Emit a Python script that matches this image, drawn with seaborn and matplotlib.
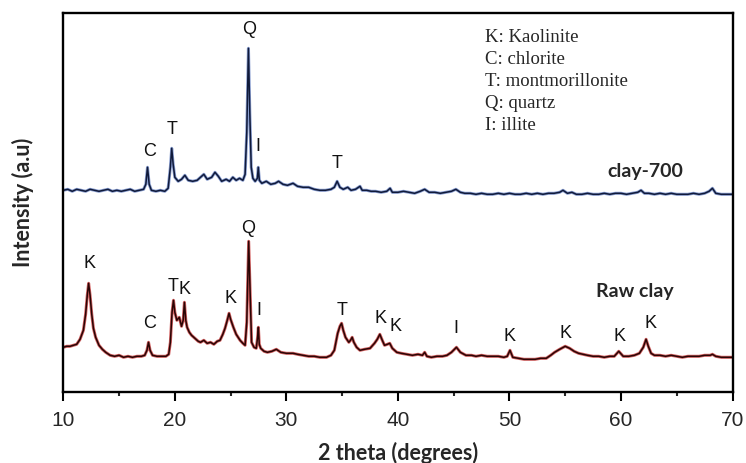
import matplotlib
matplotlib.use("Agg")
import matplotlib.pyplot as plt
from matplotlib.ticker import MultipleLocator
import seaborn as sns
import pandas as pd

# ---- data (2 theta, intensity a.u. offset) ----
theta_700 = [10.0, 10.4, 10.8, 11.2, 11.6, 12.0, 12.4, 12.8, 13.2, 13.6, 14.0, 14.4, 14.8, 15.2, 15.6, 16.0,
             16.4, 16.8, 17.2, 17.4, 17.55, 17.7, 17.9, 18.3, 18.7, 19.1, 19.4, 19.6, 19.72, 19.85, 20.0, 20.3,
             20.6, 20.9, 21.2, 21.6, 22.0, 22.4, 22.6, 22.9, 23.3, 23.6, 23.9, 24.2, 24.6, 24.9, 25.2, 25.5,
             25.8, 26.1, 26.3, 26.45, 26.6, 26.72, 26.85, 27.0, 27.2, 27.4, 27.48, 27.58, 27.8, 28.2, 28.6,
             29.0, 29.3, 29.7, 30.1, 30.6, 31.0, 31.5, 32.0, 32.5, 33.0, 33.5, 34.0, 34.3, 34.55, 34.8, 35.1,
             35.5, 35.8, 36.2, 36.6, 36.8, 37.2, 37.6, 38.0, 38.5, 39.0, 39.3, 39.5, 40.0, 40.5, 41.0, 41.5,
             42.0, 42.4, 42.8, 43.3, 43.8, 44.3, 44.8, 45.2, 45.6, 46.0, 46.5, 47.0, 47.5, 48.0, 48.5, 49.0,
             49.5, 50.0, 50.5, 51.0, 51.5, 52.0, 52.5, 53.0, 53.5, 54.0, 54.5, 54.8, 55.2, 55.6, 56.0, 56.5,
             57.0, 57.5, 58.0, 58.5, 59.0, 59.5, 60.0, 60.5, 61.0, 61.5, 61.8, 62.1, 62.5, 63.0, 63.5, 64.0,
             64.5, 65.0, 65.5, 66.0, 66.5, 67.0, 67.5, 67.9, 68.2, 68.5, 69.0, 69.5, 70.0]
int_700 = [202, 203, 201, 203, 202, 201, 203, 202, 201, 202, 203, 201, 202, 201, 202, 203,
           201, 202, 203, 208, 225, 208, 202, 201, 202, 201, 204, 225, 244, 228, 215, 211,
           213, 217, 212, 211, 212, 216, 218, 213, 215, 220, 216, 211, 213, 211, 215, 212,
           214, 212, 218, 260, 344, 280, 225, 214, 211, 214, 225, 212, 209, 211, 208,
           209, 211, 208, 207, 209, 206, 205, 205, 203, 202, 202, 203, 205, 211, 205, 203,
           205, 202, 203, 206, 202, 202, 201, 201, 200, 201, 204, 200, 200, 201, 200, 199,
           201, 203, 200, 200, 199, 200, 201, 203, 200, 199, 199, 198, 199, 198, 198, 199,
           198, 199, 198, 198, 199, 198, 199, 198, 199, 199, 200, 202, 199, 200, 198, 198,
           199, 198, 198, 199, 198, 199, 199, 198, 199, 200, 202, 199, 199, 198, 199, 198,
           199, 198, 198, 198, 199, 198, 199, 201, 204, 199, 198, 198, 198]

theta_raw = [10.0, 10.3, 10.6, 10.9, 11.2, 11.5, 11.8, 12.0, 12.15, 12.27, 12.4, 12.55, 12.7, 12.9, 13.2,
             13.5, 13.8, 14.2, 14.6, 15.0, 15.4, 15.8, 16.2, 16.6, 17.0, 17.3, 17.5, 17.64, 17.78, 18.0,
             18.4, 18.8, 19.2, 19.45, 19.6, 19.75, 19.88, 20.0, 20.18, 20.4, 20.6, 20.75, 20.86, 20.98,
             21.1, 21.3, 21.5, 21.8, 22.1, 22.3, 22.6, 22.9, 23.2, 23.5, 23.8, 24.05, 24.3, 24.5, 24.7,
             24.86, 25.0, 25.25, 25.5, 25.85, 26.1, 26.3, 26.45, 26.62, 26.75, 26.88, 27.1, 27.3, 27.42,
             27.49, 27.57, 27.7, 28.0, 28.3, 28.7, 29.1, 29.5, 30.0, 30.6, 31.0, 31.5, 32.0, 32.5, 33.0,
             33.6, 34.0, 34.3, 34.6, 34.8, 34.95, 35.1, 35.3, 35.6, 35.75, 35.9, 36.05, 36.3, 36.6, 37.0,
             37.5, 37.9, 38.15, 38.38, 38.6, 38.8, 39.05, 39.27, 39.5, 39.9, 40.3, 40.8, 41.3, 41.8, 42.2,
             42.4, 42.6, 43.0, 43.5, 44.0, 44.4, 44.8, 45.25, 45.6, 46.1, 46.6, 47.0, 47.5, 48.0, 48.5,
             49.0, 49.5, 49.8, 50.05, 50.3, 50.8, 51.3, 51.8, 52.3, 52.8, 53.3, 53.7, 54.05, 54.5, 55.0,
             55.4, 55.8, 56.2, 56.6, 57.0, 57.5, 58.0, 58.5, 59.0, 59.4, 59.8, 60.2, 60.7, 61.2, 61.65,
             62.0, 62.25, 62.45, 62.7, 63.0, 63.5, 64.0, 64.5, 65.0, 65.5, 66.0, 66.5, 67.0, 67.5, 68.0,
             68.2, 68.5, 69.0, 69.5, 70.0]
int_raw = [45, 46, 46, 47, 48, 53, 62, 78, 97, 109, 97, 78, 64, 55, 47,
           43, 40, 37, 36, 37, 35, 36, 35, 36, 36, 37, 42, 50, 42, 37,
           36, 36, 36, 38, 50, 80, 92, 80, 72, 75, 66, 72, 90, 72,
           65, 60, 57, 54, 51, 50, 52, 49, 50, 48, 51, 52, 58, 64, 72,
           79, 73, 65, 58, 52, 49, 47, 70, 151, 100, 50, 45, 44, 55,
           65, 48, 44, 41, 40, 41, 43, 40, 39, 39, 38, 37, 36, 36, 35,
           35, 37, 42, 59, 66, 69, 62, 55, 50, 52, 55, 50, 45, 42, 43,
           44, 49, 53, 58, 52, 47, 48, 49, 44, 40, 39, 38, 37, 38, 37,
           40, 36, 35, 36, 36, 37, 40, 45, 40, 37, 37, 36, 37, 36, 36,
           36, 35, 36, 42, 35, 34, 33, 33, 33, 34, 34, 37, 40, 43, 46,
           44, 41, 39, 38, 37, 36, 36, 35, 36, 36, 41, 36, 36, 37, 39,
           45, 53, 46, 39, 37, 37, 36, 37, 36, 35, 36, 36, 36, 37, 37,
           38, 36, 35, 35, 35]

# peak labels: (letter, 2theta, intensity)
labels_700 = ["C", "T", "Q", "I", "T"]
lx_700 = [17.71, 19.72, 26.65, 27.48, 34.57]
ly_700 = [240.6, 262.3, 362.3, 245.6, 229.0]
labels_raw = ["K", "C", "T", "K", "K", "Q", "I", "T", "K", "K", "I", "K", "K", "K", "K"]
lx_raw = [12.39, 17.71, 19.86, 20.91, 24.95, 26.59, 27.55, 34.96, 38.40, 39.74, 45.21, 50.05, 55.05, 59.85, 62.67]
ly_raw = [129.0, 69.0, 105.6, 103.0, 94.0, 164.0, 82.0, 82.0, 74.0, 66.0, 64.0, 56.0, 59.0, 55.6, 69.0]

legend_lines = ["K: Kaolinite", "C: chlorite", "T: montmorillonite", "Q: quartz", "I: illite"]
series_names = ["clay-700", "Raw clay"]
x_ticks = [10, 20, 30, 40, 50, 60, 70]

# ---- plot ----
sns.set_theme(style="white")
plt.rcParams["font.family"] = ["Liberation Sans", "DejaVu Sans"]

W, H = 746, 463
fig = plt.figure(figsize=(W / 100, H / 100), dpi=100)
ax = fig.add_axes([63.3 / W, 1 - 392.3 / H, (732.5 - 63.3) / W, (392.3 - 13.3) / H])

df700 = pd.DataFrame({"theta": theta_700, "I": int_700})
dfraw = pd.DataFrame({"theta": theta_raw, "I": int_raw})

sns.lineplot(data=df700, x="theta", y="I", ax=ax, color="#3a5cb0", lw=2.2, sort=False, estimator=None, alpha=0.6)
sns.lineplot(data=df700, x="theta", y="I", ax=ax, color="#101a3a", lw=1.1, sort=False, estimator=None)
sns.lineplot(data=dfraw, x="theta", y="I", ax=ax, color="#c02020", lw=2.2, sort=False, estimator=None, alpha=0.7)
sns.lineplot(data=dfraw, x="theta", y="I", ax=ax, color="#2a0505", lw=1.1, sort=False, estimator=None)

sans = ["Liberation Sans", "DejaVu Sans"]
for t, x, y in zip(labels_700, lx_700, ly_700):
    ax.text(x, y, t, ha="center", va="center", fontsize=13, color="#111111", family=sans)
for t, x, y in zip(labels_raw, lx_raw, ly_raw):
    ax.text(x, y, t, ha="center", va="center", fontsize=13, color="#111111", family=sans)

bold_font = ["Lato", "DejaVu Sans"]
ax.text(62.2, 220.6, series_names[0], ha="center", va="center", fontsize=14,
        fontweight="bold", family=bold_font)
ax.text(61.2, 101.0, series_names[1], ha="center", va="center", fontsize=14,
        fontweight="bold", family=bold_font)

for i, line in enumerate(legend_lines):
    fig.text(485 / W, 1 - (42 + 22 * i) / H, line, fontsize=13.5,
             family=["Liberation Serif"], ha="left", va="baseline")

ax.set_xlim(10, 70)
ax.set_ylim(0, 379)
ax.set_xticks(x_ticks)
ax.xaxis.set_minor_locator(MultipleLocator(5))
ax.set_yticks([])
ax.tick_params(axis="x", which="major", direction="out", length=6.7, width=1.5,
               labelsize=15, pad=7, color="black", bottom=True)
ax.tick_params(axis="x", which="minor", direction="out", length=3.2, width=1.5, bottom=True)
for lab in ax.get_xticklabels():
    lab.set_family(sans)
for s in ax.spines.values():
    s.set_visible(True)
    s.set_color("black")
    s.set_linewidth(1.7)

ax.set_xlabel("2 theta (degrees)", fontsize=15.5, fontweight="bold", family=bold_font, labelpad=8)
ax.set_ylabel("Intensity (a.u)", fontsize=15.5, fontweight="bold", family=bold_font, labelpad=21)

fig.savefig("out.png", dpi=100, facecolor="white")
